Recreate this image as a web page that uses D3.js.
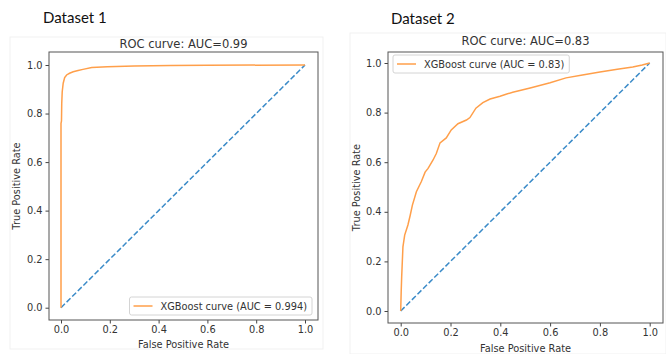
<!DOCTYPE html>
<html>
<head>
<meta charset="utf-8">
<script src="https://cdn.jsdelivr.net/npm/d3@7"></script>
<style>
  body { margin: 0; background: #fff; }
  svg { display: block; }
  .tick text { font-family: "DejaVu Sans", sans-serif; fill: #333; }
</style>
</head>
<body>
<svg id="chart" width="666" height="354"></svg>
<script>
// dataset 1 roc points
const fpr1 = [0, 0.0, 0.002, 0.003, 0.005, 0.009, 0.015, 0.023, 0.035, 0.05, 0.07, 0.09, 0.126, 0.19, 0.3, 0.45, 0.6, 1.0];
const tpr1 = [0, 0.76, 0.77, 0.84, 0.89, 0.925, 0.948, 0.959, 0.966, 0.972, 0.977, 0.982, 0.99, 0.993, 0.996, 0.998, 0.999, 1.0];

// dataset 2 roc points
const fpr2 = [0, 0.002, 0.004, 0.009, 0.016, 0.029, 0.038, 0.047, 0.063, 0.083, 0.098, 0.11, 0.13, 0.143, 0.158, 0.183, 0.203, 0.23, 0.264, 0.278, 0.302, 0.33, 0.359, 0.399, 0.423, 0.45, 0.52, 0.6, 0.664, 0.73, 0.8, 0.87, 0.932, 0.97, 1.0];
const tpr2 = [0, 0.08, 0.14, 0.259, 0.306, 0.347, 0.385, 0.427, 0.481, 0.522, 0.56, 0.575, 0.609, 0.635, 0.678, 0.698, 0.73, 0.755, 0.77, 0.78, 0.818, 0.84, 0.855, 0.866, 0.874, 0.882, 0.899, 0.92, 0.94, 0.952, 0.964, 0.975, 0.984, 0.992, 1.0];

const chanceLine = [0, 1];
const tickValues = [0, 0.2, 0.4, 0.6, 0.8, 1.0];
const datasetNames = ["Dataset 1", "Dataset 2"];
const titles = ["ROC curve: AUC=0.99", "ROC curve: AUC=0.83"];
const legendLabels = ["XGBoost curve (AUC = 0.994)", "XGBoost curve (AUC = 0.83)"];

const orange = "#ff9f4a";
const blue = "#3b8bc8";
const svg = d3.select("#chart");

// one panel per dataset
const panels = [
  { fpr: fpr1, tpr: tpr1, name: datasetNames[0], title: titles[0], legend: legendLabels[0],
    bg: [10, 37, 313, 312], nameX: 43, nameY: 23,
    box: [49, 52, 318, 320], x0: 61, x1: 305, y0: 307.7, y1: 65,
    titleY: 48, xlabY: 348, ylabX: 20, legendPos: "br" },
  { fpr: fpr2, tpr: tpr2, name: datasetNames[1], title: titles[1], legend: legendLabels[1],
    bg: [350, 33, 316, 321], nameX: 391, nameY: 24,
    box: [388, 52, 663, 323], x0: 400.7, x1: 649.7, y0: 311, y1: 63,
    titleY: 45, xlabY: 352, ylabX: 360, legendPos: "tl" }
];

panels.forEach(p => {
  const g = svg.append("g");

  g.append("rect")
    .attr("x", p.bg[0]).attr("y", p.bg[1])
    .attr("width", p.bg[2]).attr("height", p.bg[3])
    .attr("fill", "#fff").attr("stroke", "#f1f1f1");

  g.append("text")
    .attr("x", p.nameX).attr("y", p.nameY)
    .attr("font-family", "Lato, 'Open Sans', sans-serif")
    .attr("font-size", 15)
    .attr("fill", "#111")
    .text(p.name);

  const x = d3.scaleLinear().domain([0, 1]).range([p.x0, p.x1]);
  const y = d3.scaleLinear().domain([0, 1]).range([p.y0, p.y1]);
  const [bl, bt, br, bb] = p.box;

  g.append("g")
    .attr("transform", `translate(0,${bb})`)
    .call(d3.axisBottom(x).tickValues(tickValues).tickFormat(d3.format(".1f")).tickSize(3.5).tickPadding(3))
    .call(a => a.select(".domain").remove())
    .call(a => a.selectAll("line").attr("stroke", "#444"))
    .call(a => a.selectAll("text").attr("font-size", 9.8));

  g.append("g")
    .attr("transform", `translate(${bl},0)`)
    .call(d3.axisLeft(y).tickValues(tickValues).tickFormat(d3.format(".1f")).tickSize(3.5).tickPadding(3))
    .call(a => a.select(".domain").remove())
    .call(a => a.selectAll("line").attr("stroke", "#444"))
    .call(a => a.selectAll("text").attr("font-size", 9.8));

  // chance diagonal
  const line = d3.line().x(d => x(d[0])).y(d => y(d[1]));
  g.append("path")
    .datum(chanceLine.map(v => [v, v]))
    .attr("d", line)
    .attr("fill", "none")
    .attr("stroke", blue)
    .attr("stroke-width", 1.5)
    .attr("stroke-dasharray", "5.5,2.4");

  g.append("path")
    .datum(p.fpr.map((f, i) => [f, p.tpr[i]]))
    .attr("d", line)
    .attr("fill", "none")
    .attr("stroke", orange)
    .attr("stroke-width", 1.5);

  g.append("rect")
    .attr("x", bl).attr("y", bt)
    .attr("width", br - bl).attr("height", bb - bt)
    .attr("fill", "none").attr("stroke", "#555").attr("stroke-width", 1);

  g.append("text")
    .attr("x", (bl + br) / 2).attr("y", p.titleY)
    .attr("text-anchor", "middle")
    .attr("font-family", "DejaVu Sans, sans-serif")
    .attr("font-size", 11.5).attr("fill", "#333")
    .text(p.title);

  g.append("text")
    .attr("x", (bl + br) / 2).attr("y", p.xlabY)
    .attr("text-anchor", "middle")
    .attr("font-family", "DejaVu Sans, sans-serif")
    .attr("font-size", 9.8).attr("fill", "#333")
    .text("False Positive Rate");

  g.append("text")
    .attr("transform", `translate(${p.ylabX},${(bt + bb) / 2}) rotate(-90)`)
    .attr("text-anchor", "middle")
    .attr("font-family", "DejaVu Sans, sans-serif")
    .attr("font-size", 9.8).attr("fill", "#333")
    .text("True Positive Rate");

  // legend
  const lg = g.append("g");
  const txt = lg.append("text")
    .attr("font-family", "DejaVu Sans, sans-serif")
    .attr("font-size", 9.8).attr("fill", "#333")
    .text(p.legend);
  const tw = txt.node().getComputedTextLength();
  const lw = tw + 36, lh = 18;
  const lx = p.legendPos === "br" ? br - 6 - lw : bl + 5;
  const ly = p.legendPos === "br" ? bb - 5 - lh : bt + 3;
  lg.insert("rect", "text")
    .attr("x", lx).attr("y", ly).attr("width", lw).attr("height", lh)
    .attr("rx", 2).attr("fill", "#fff").attr("fill-opacity", 0.85)
    .attr("stroke", "#d4d4d4");
  lg.append("line")
    .attr("x1", lx + 4).attr("x2", lx + 23)
    .attr("y1", ly + lh / 2).attr("y2", ly + lh / 2)
    .attr("stroke", orange).attr("stroke-width", 1.5);
  txt.attr("x", lx + 31).attr("y", ly + lh / 2 + 3.5);
});
</script>
</body>
</html>
